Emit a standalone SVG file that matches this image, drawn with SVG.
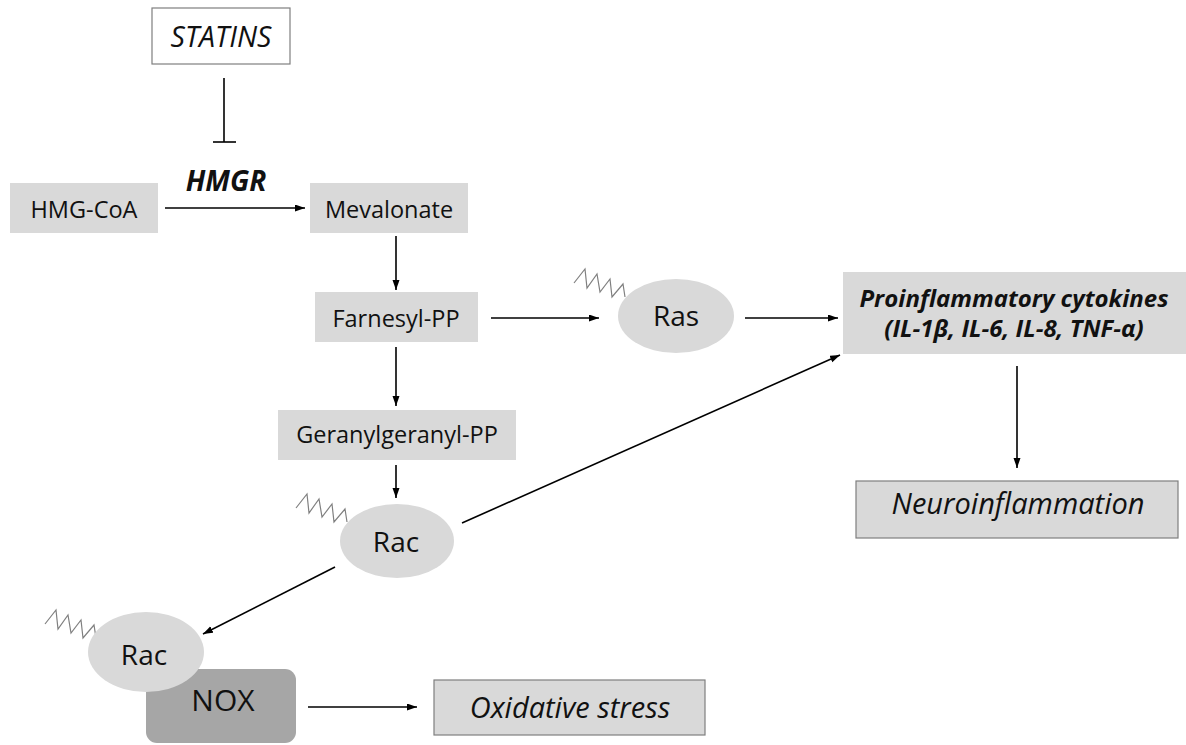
<svg xmlns="http://www.w3.org/2000/svg" xmlns:xlink="http://www.w3.org/1999/xlink" width="1186" height="745" viewBox="0 0 1186 745">
<style>
.box{fill:#d9d9d9;}
.bord{stroke:#7f7f7f;stroke-width:1.2;}
.t{font-family:"Open Sans","Liberation Sans",sans-serif;font-size:23.5px;fill:#111;text-anchor:middle;}
.it{font-style:italic;}
.bi{font-style:italic;font-weight:bold;}
.conn line{stroke:#000;stroke-width:1.6;fill:none;}
.zz{fill:none;stroke:#808080;stroke-width:1.2;}
</style>
<defs>
<marker id="ah" markerUnits="userSpaceOnUse" markerWidth="11" markerHeight="8" refX="10" refY="3.5" orient="auto">
<path d="M0,0 L10,3.5 L0,7 z" fill="#000"/>
</marker>
<path id="zig" d="M0,0 L11,-14 L13,5 L23,-9 L26,9 L36,-4 L38,14 L49,1 L51,14"/>
</defs>
<rect width="1186" height="745" fill="#fff"/>

<g id="statins">
<rect x="152" y="8" width="138" height="56" fill="#fff" class="bord"/>
<text x="221" y="47" class="t it" style="font-size:28.5px">STATINS</text>
</g>
<g id="hmgr">
<text x="226" y="191" class="t bi" style="font-size:28px">HMGR</text>
</g>
<g id="hmgcoa">
<rect x="10" y="183" width="148" height="50" class="box"/>
<text x="84" y="218" class="t">HMG-CoA</text>
</g>
<g id="mevalonate">
<rect x="310" y="183" width="158" height="50" class="box"/>
<text x="389" y="218" class="t">Mevalonate</text>
</g>
<g id="farnesyl">
<rect x="315" y="292" width="163" height="50" class="box"/>
<text x="396" y="327" class="t">Farnesyl-PP</text>
</g>
<g id="geranyl">
<rect x="278" y="410" width="238" height="50" class="box"/>
<text x="397" y="443" class="t">Geranylgeranyl-PP</text>
</g>
<g id="ras">
<use xlink:href="#zig" class="zz" transform="translate(574,283)"/>
<ellipse cx="676" cy="316" rx="58" ry="37" class="box"/>
<text x="676" y="326" class="t" style="font-size:28px">Ras</text>
</g>
<g id="rac1">
<use xlink:href="#zig" class="zz" transform="translate(296,508)"/>
<ellipse cx="397" cy="541" rx="57" ry="37" class="box"/>
<text x="396" y="552" class="t" style="font-size:28px">Rac</text>
</g>
<g id="nox">
<rect x="146" y="669" width="150" height="74" rx="11" ry="11" fill="#a6a6a6"/>
<text x="223" y="711" class="t" style="font-size:30px">NOX</text>
</g>
<g id="rac2">
<use xlink:href="#zig" class="zz" transform="translate(45,624)"/>
<ellipse cx="146" cy="652" rx="58" ry="40" class="box"/>
<text x="144" y="665" class="t" style="font-size:28px">Rac</text>
</g>
<g id="cytokines">
<rect x="843" y="272" width="343" height="82" class="box"/>
<text x="1014" y="307" class="t bi" style="font-size:24px">Proinflammatory cytokines</text>
<text x="1014" y="337" class="t bi" style="font-size:24px">(IL-1β, IL-6, IL-8, TNF-α)</text>
</g>
<g id="neuro">
<rect x="856" y="481" width="322" height="57" class="box bord"/>
<text x="1018" y="514" class="t it" style="font-size:29px">Neuroinflammation</text>
</g>
<g id="oxidative">
<rect x="434" y="680" width="271" height="55" class="box bord"/>
<text x="570" y="718" class="t it" style="font-size:29px">Oxidative stress</text>
</g>

<g id="connectors" class="conn">
<line x1="224" y1="78" x2="224" y2="142"/>
<line x1="213" y1="142" x2="236" y2="142"/>
<line x1="165" y1="208" x2="305" y2="208" marker-end="url(#ah)"/>
<line x1="396" y1="236" x2="396" y2="290" marker-end="url(#ah)"/>
<line x1="396" y1="347" x2="396" y2="406" marker-end="url(#ah)"/>
<line x1="491" y1="318" x2="599" y2="318" marker-end="url(#ah)"/>
<line x1="745" y1="318" x2="838" y2="318" marker-end="url(#ah)"/>
<line x1="396" y1="465" x2="396" y2="498" marker-end="url(#ah)"/>
<line x1="462" y1="523" x2="840" y2="355" marker-end="url(#ah)"/>
<line x1="335" y1="567" x2="203" y2="634" marker-end="url(#ah)"/>
<line x1="1017" y1="366" x2="1017" y2="468" marker-end="url(#ah)"/>
<line x1="308" y1="707" x2="417" y2="707" marker-end="url(#ah)"/>
</g>
</svg>
